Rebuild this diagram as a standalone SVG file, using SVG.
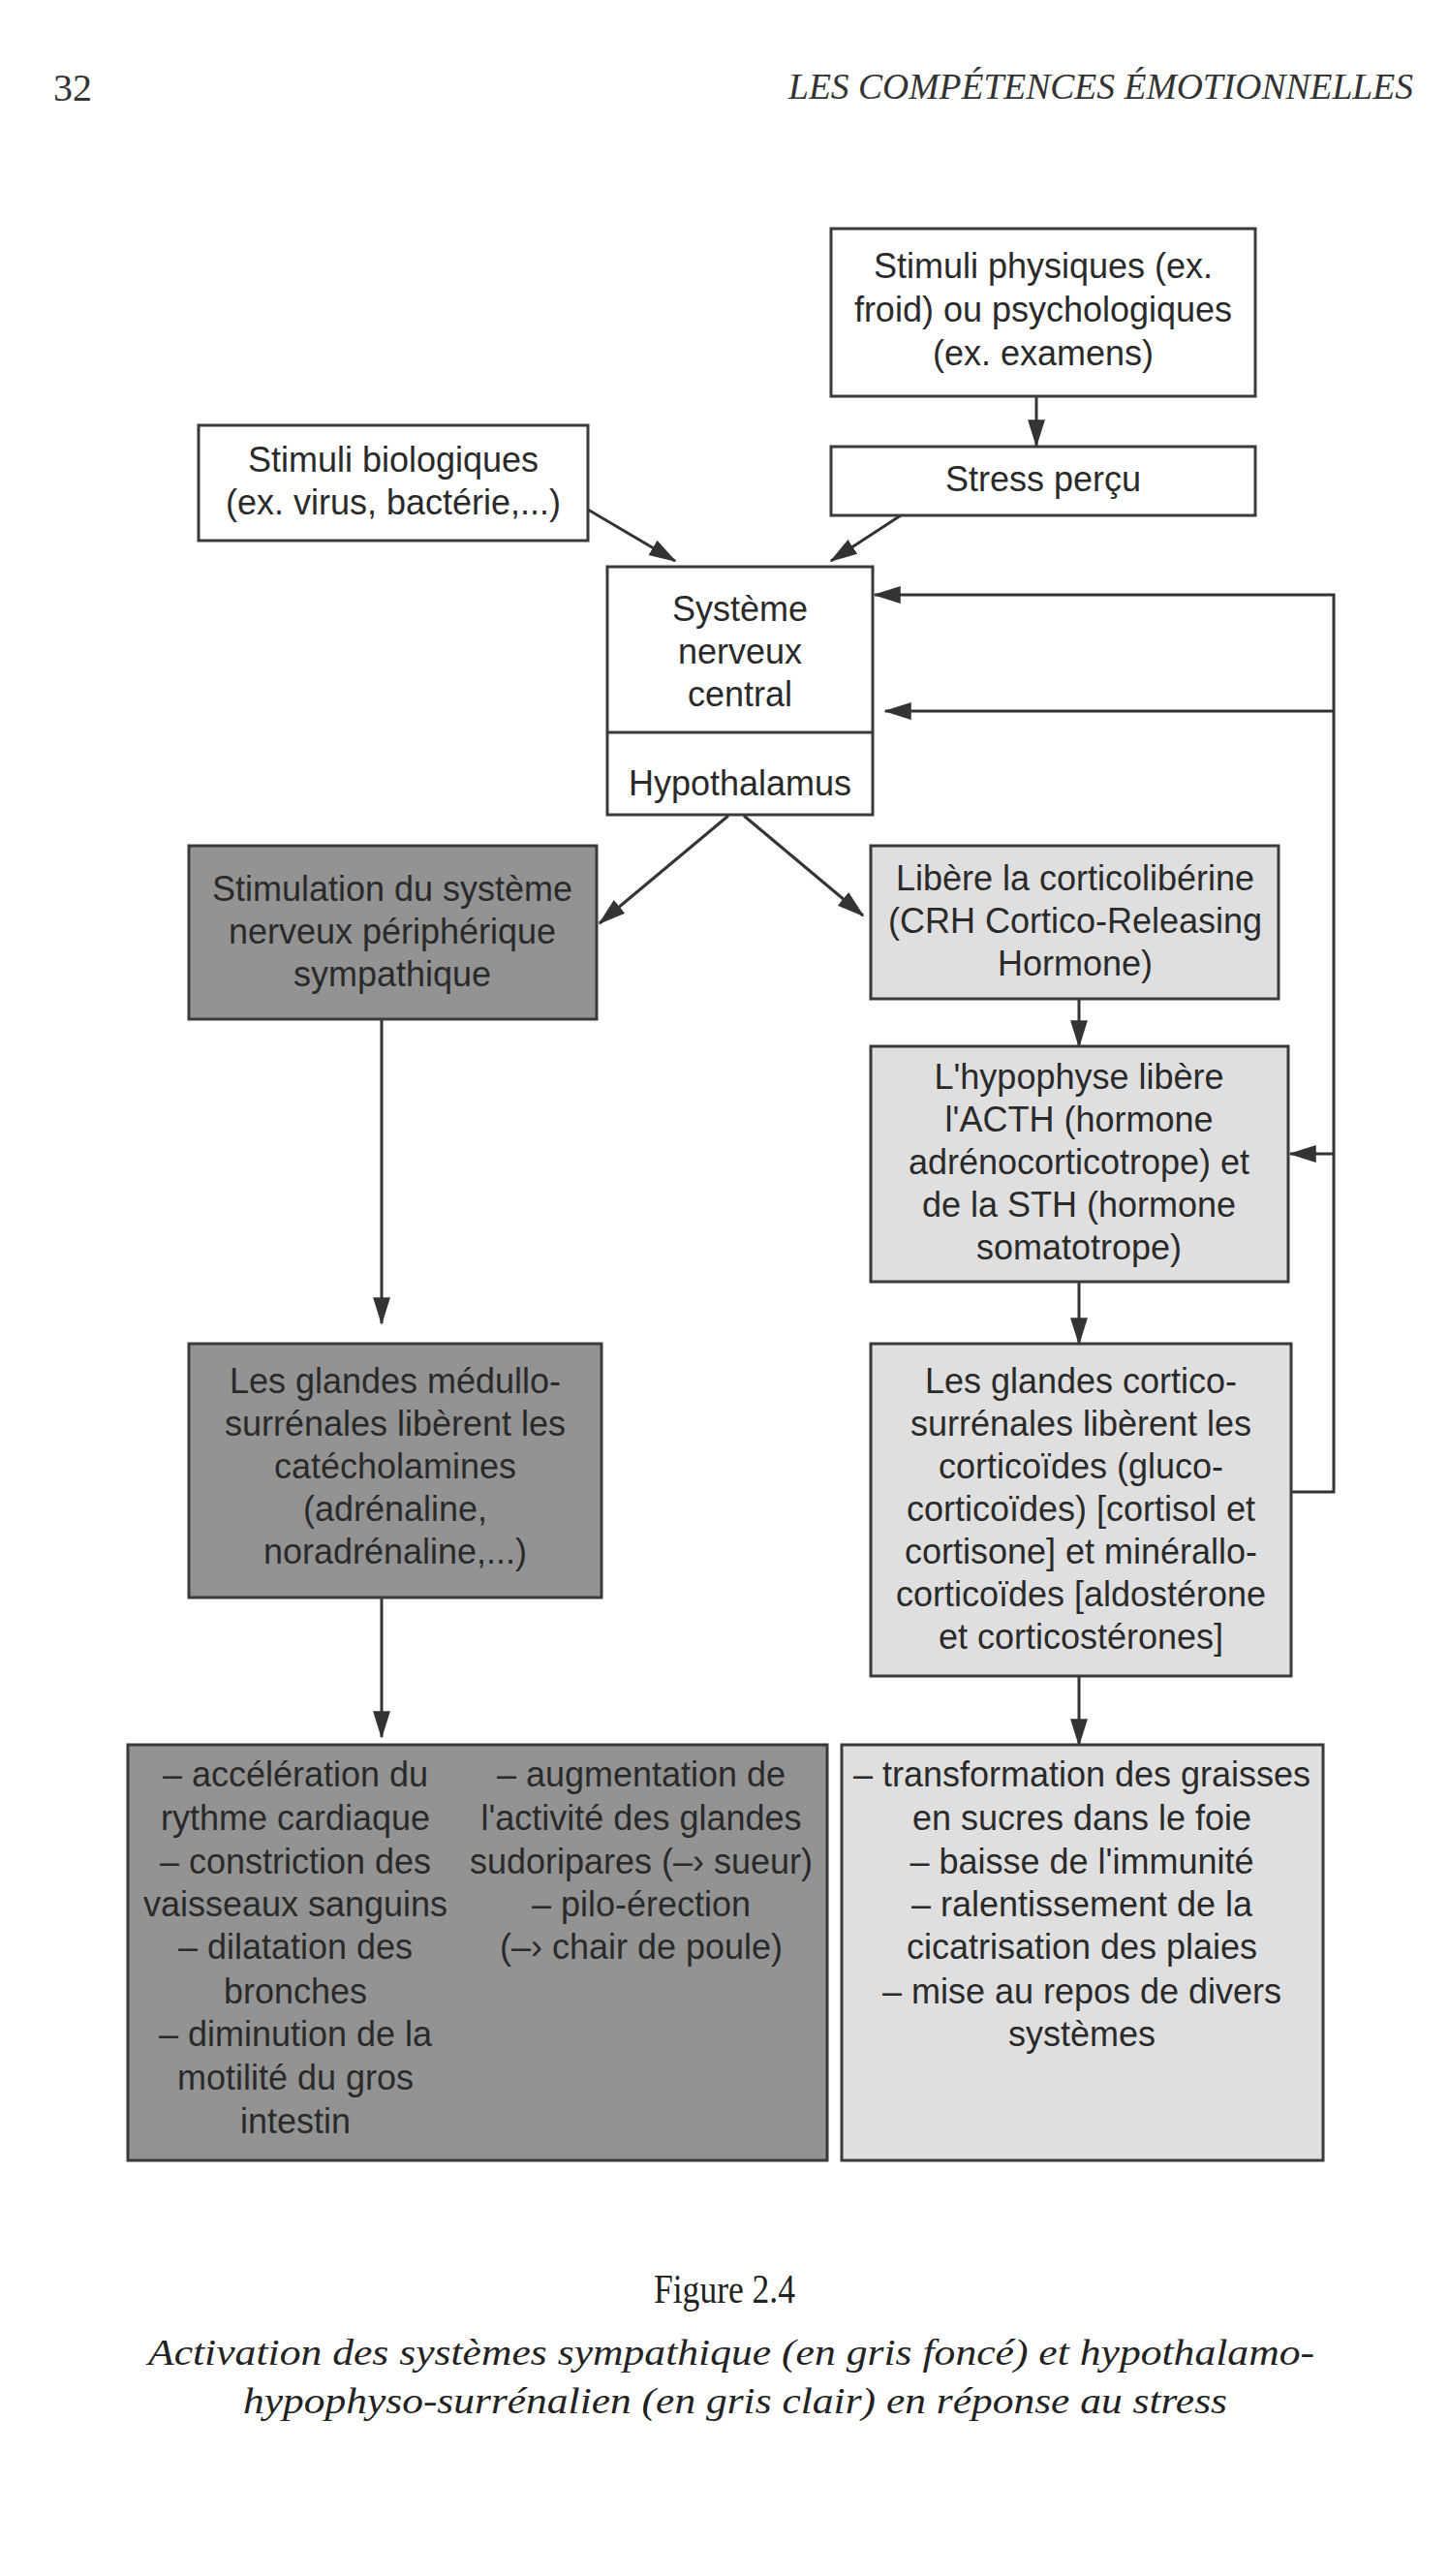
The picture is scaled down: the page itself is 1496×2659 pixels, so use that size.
<svg xmlns="http://www.w3.org/2000/svg" width="1496" height="2659" viewBox="0 0 1496 2659">
<defs>
<style>
.bg{fill:#ffffff}
.box{stroke:#3a3a3a;stroke-width:3}
.white{fill:#ffffff}
.dark{fill:#939393}
.light{fill:#dfdfdf}
.t{font-family:"Liberation Sans","DejaVu Sans",sans-serif;font-size:36px;fill:#2a2a2a;text-anchor:middle}
.hdr{font-family:"Liberation Serif","DejaVu Serif",serif;fill:#333}
.cap{font-family:"Liberation Serif","DejaVu Serif",serif;fill:#222;text-anchor:middle}
.ln{stroke:#333;stroke-width:3;fill:none}
</style>
<marker id="ah" viewBox="0 0 16 10" refX="15" refY="5" markerWidth="9.5" markerHeight="6.5" markerUnits="strokeWidth" orient="auto">
<path d="M0,0 L16,5 L0,10 z" fill="#333"/>
</marker>
</defs>
<rect class="bg" x="0" y="0" width="1496" height="2659"/>

<g id="header">
<text class="hdr" x="55" y="104" font-size="40">32</text>
<text class="hdr" x="1459" y="102" font-size="38" font-style="italic" text-anchor="end" textLength="645" lengthAdjust="spacingAndGlyphs">LES COMPÉTENCES ÉMOTIONNELLES</text>
</g>

<g id="connectors">
<line class="ln" x1="1070" y1="409" x2="1070" y2="460" marker-end="url(#ah)"/>
<line class="ln" x1="607" y1="526" x2="697" y2="579" marker-end="url(#ah)"/>
<line class="ln" x1="930" y1="532" x2="858" y2="579" marker-end="url(#ah)"/>
<polyline class="ln" points="1333,1540 1377,1540 1377,614 903,614" marker-end="url(#ah)"/>
<line class="ln" x1="1377" y1="734" x2="914" y2="734" marker-end="url(#ah)"/>
<line class="ln" x1="1377" y1="1191" x2="1332" y2="1191" marker-end="url(#ah)"/>
<line class="ln" x1="752" y1="842" x2="619" y2="953" marker-end="url(#ah)"/>
<line class="ln" x1="768" y1="842" x2="891" y2="945" marker-end="url(#ah)"/>
<line class="ln" x1="394" y1="1052" x2="394" y2="1366" marker-end="url(#ah)"/>
<line class="ln" x1="394" y1="1649" x2="394" y2="1793" marker-end="url(#ah)"/>
<line class="ln" x1="1114" y1="1031" x2="1114" y2="1080" marker-end="url(#ah)"/>
<line class="ln" x1="1114" y1="1323" x2="1114" y2="1387" marker-end="url(#ah)"/>
<line class="ln" x1="1114" y1="1730" x2="1114" y2="1801" marker-end="url(#ah)"/>
</g>

<g id="stimuli-physiques">
<rect class="box white" x="858" y="236" width="438" height="173"/>
<text class="t" x="1077" y="287">Stimuli physiques (ex.</text>
<text class="t" x="1077" y="332">froid) ou psychologiques</text>
<text class="t" x="1077" y="377">(ex. examens)</text>
</g>

<g id="stress-percu">
<rect class="box white" x="858" y="461" width="438" height="71"/>
<text class="t" x="1077" y="507">Stress perçu</text>
</g>

<g id="stimuli-biologiques">
<rect class="box white" x="205" y="439" width="402" height="119"/>
<text class="t" x="406" y="487">Stimuli biologiques</text>
<text class="t" x="406" y="531">(ex. virus, bactérie,...)</text>
</g>

<g id="snc">
<rect class="box white" x="627" y="585" width="274" height="256"/>
<line class="box" x1="627" y1="756" x2="901" y2="756"/>
<text class="t" x="764" y="641">Système</text>
<text class="t" x="764" y="685">nerveux</text>
<text class="t" x="764" y="729">central</text>
<text class="t" x="764" y="821">Hypothalamus</text>
</g>

<g id="stimulation">
<rect class="box dark" x="195" y="873" width="421" height="179"/>
<text class="t" x="405" y="930">Stimulation du système</text>
<text class="t" x="405" y="974">nerveux périphérique</text>
<text class="t" x="405" y="1018">sympathique</text>
</g>

<g id="crh">
<rect class="box light" x="899" y="873" width="421" height="158"/>
<text class="t" x="1110" y="919">Libère la corticolibérine</text>
<text class="t" x="1110" y="963">(CRH Cortico-Releasing</text>
<text class="t" x="1110" y="1007">Hormone)</text>
</g>

<g id="hypophyse">
<rect class="box light" x="899" y="1080" width="431" height="243"/>
<text class="t" x="1114" y="1124">L'hypophyse libère</text>
<text class="t" x="1114" y="1168">l'ACTH (hormone</text>
<text class="t" x="1114" y="1212">adrénocorticotrope) et</text>
<text class="t" x="1114" y="1256">de la STH (hormone</text>
<text class="t" x="1114" y="1300">somatotrope)</text>
</g>

<g id="medullo">
<rect class="box dark" x="195" y="1387" width="426" height="262"/>
<text class="t" x="408" y="1438">Les glandes médullo-</text>
<text class="t" x="408" y="1482">surrénales libèrent les</text>
<text class="t" x="408" y="1526">catécholamines</text>
<text class="t" x="408" y="1570">(adrénaline,</text>
<text class="t" x="408" y="1614">noradrénaline,...)</text>
</g>

<g id="cortico">
<rect class="box light" x="899" y="1387" width="434" height="343"/>
<text class="t" x="1116" y="1438">Les glandes cortico-</text>
<text class="t" x="1116" y="1482">surrénales libèrent les</text>
<text class="t" x="1116" y="1526">corticoïdes (gluco-</text>
<text class="t" x="1116" y="1570">corticoïdes) [cortisol et</text>
<text class="t" x="1116" y="1614">cortisone] et minérallo-</text>
<text class="t" x="1116" y="1658">corticoïdes [aldostérone</text>
<text class="t" x="1116" y="1702">et corticostérones]</text>
</g>

<g id="effets-sympathiques">
<rect class="box dark" x="132" y="1801" width="722" height="429"/>
<text class="t" x="305" y="1844">– accélération du</text>
<text class="t" x="305" y="1889">rythme cardiaque</text>
<text class="t" x="305" y="1934">– constriction des</text>
<text class="t" x="305" y="1978">vaisseaux sanguins</text>
<text class="t" x="305" y="2022">– dilatation des</text>
<text class="t" x="305" y="2068">bronches</text>
<text class="t" x="305" y="2112">– diminution de la</text>
<text class="t" x="305" y="2157">motilité du gros</text>
<text class="t" x="305" y="2202">intestin</text>
<text class="t" x="662" y="1844">– augmentation de</text>
<text class="t" x="662" y="1889">l'activité des glandes</text>
<text class="t" x="662" y="1934">sudoripares (–› sueur)</text>
<text class="t" x="662" y="1978">– pilo-érection</text>
<text class="t" x="662" y="2022">(–› chair de poule)</text>
</g>

<g id="effets-hormonaux">
<rect class="box light" x="869" y="1801" width="497" height="429"/>
<text class="t" x="1117" y="1844">– transformation des graisses</text>
<text class="t" x="1117" y="1889">en sucres dans le foie</text>
<text class="t" x="1117" y="1934">– baisse de l'immunité</text>
<text class="t" x="1117" y="1978">– ralentissement de la</text>
<text class="t" x="1117" y="2022">cicatrisation des plaies</text>
<text class="t" x="1117" y="2068">– mise au repos de divers</text>
<text class="t" x="1117" y="2112">systèmes</text>
</g>

<g id="caption">
<text class="cap" x="748" y="2377" font-size="42" textLength="146" lengthAdjust="spacingAndGlyphs">Figure 2.4</text>
<text class="cap" x="755" y="2441" font-size="38" font-style="italic" textLength="1204" lengthAdjust="spacingAndGlyphs">Activation des systèmes sympathique (en gris foncé) et hypothalamo-</text>
<text class="cap" x="759" y="2491" font-size="38" font-style="italic" textLength="1016" lengthAdjust="spacingAndGlyphs">hypophyso-surrénalien (en gris clair) en réponse au stress</text>
</g>
</svg>
